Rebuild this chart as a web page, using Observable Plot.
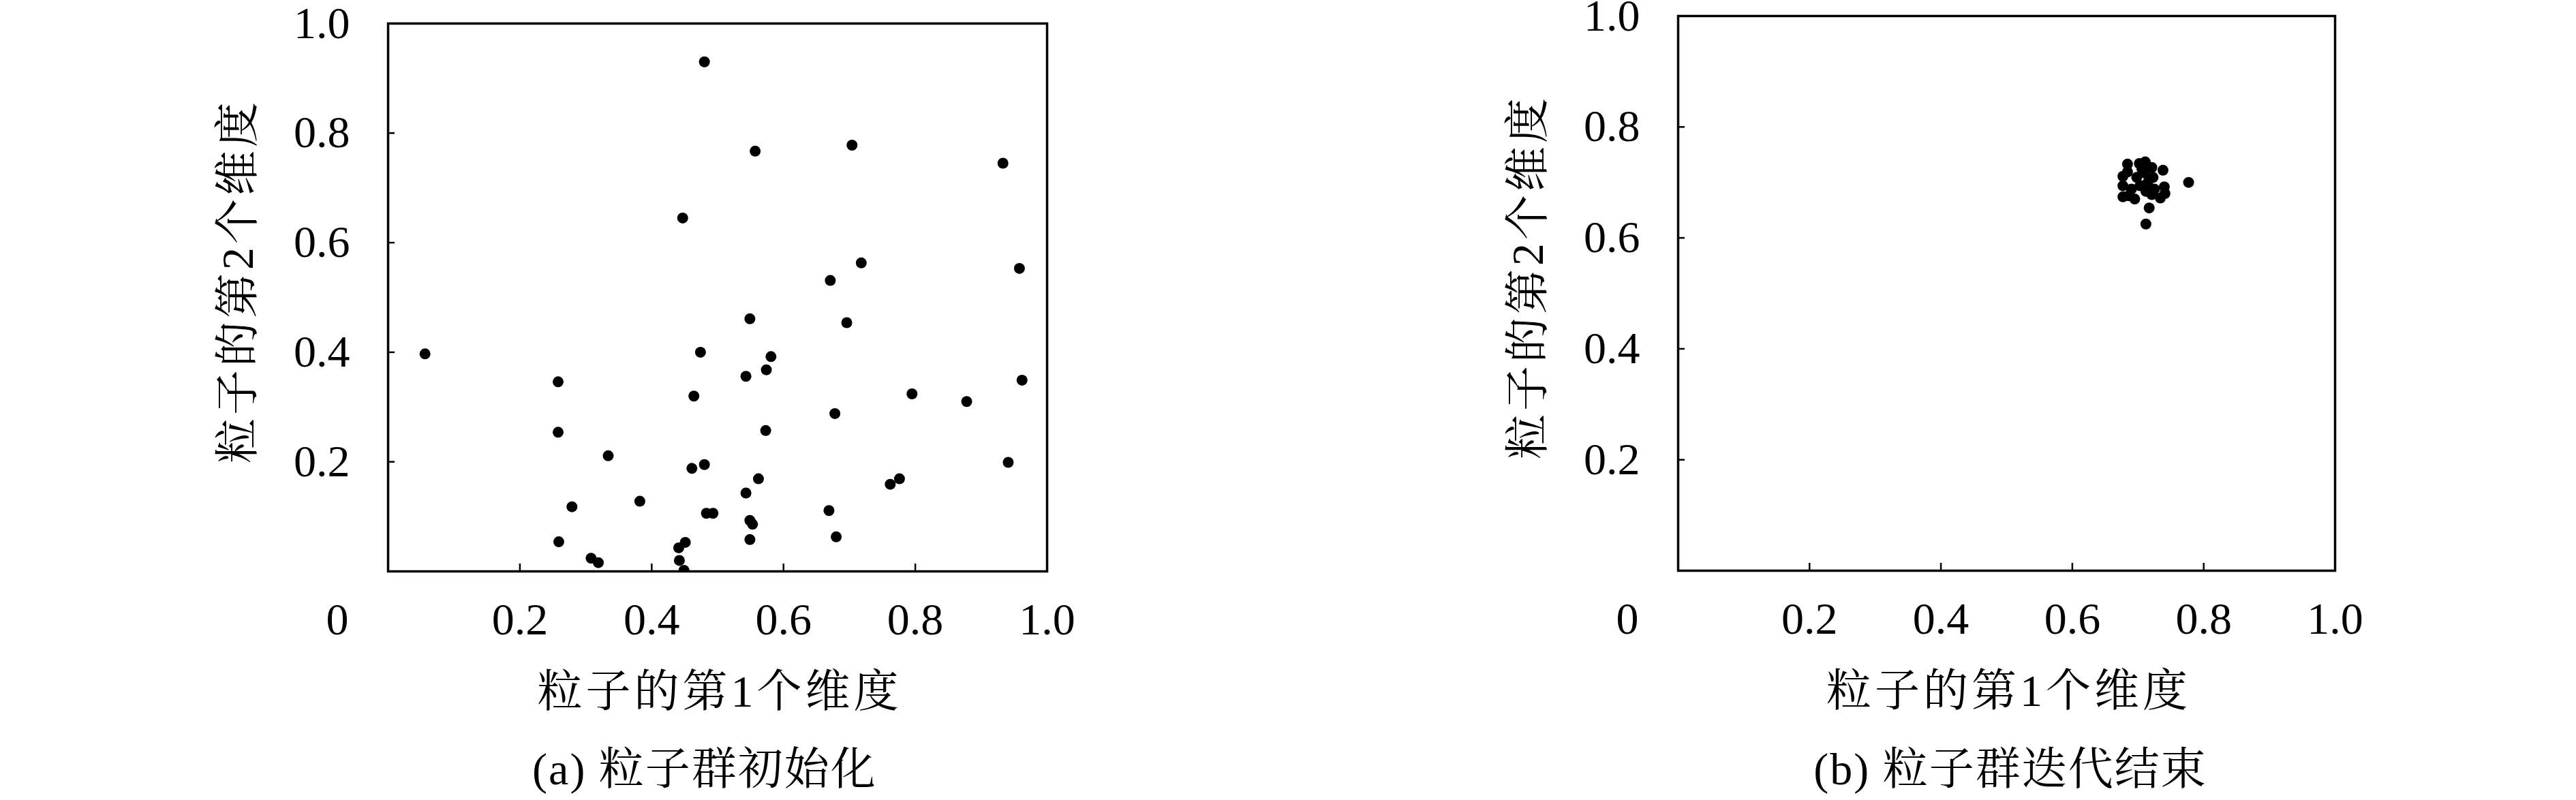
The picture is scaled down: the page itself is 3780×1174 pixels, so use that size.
<!DOCTYPE html>
<html>
<head>
<meta charset="utf-8">
<script src="https://cdn.jsdelivr.net/npm/d3@7"></script>
<script src="https://cdn.jsdelivr.net/npm/@observablehq/plot@0.6"></script>
<style>
html, body { margin: 0; padding: 0; background: #fff; }
#root { position: relative; width: 3780px; height: 1174px; overflow: hidden; background: #fff; }
.panel { position: absolute; top: 0; width: 1890px; height: 1060px; }
.cap { position: absolute; width: 1000px; text-align: center; font-family: "Liberation Serif", "Noto Serif CJK SC", "Noto Sans CJK SC", serif; font-size: 66px; line-height: 72px; letter-spacing: 2px; color: #000; white-space: nowrap; }
svg g[aria-label="text"] text { letter-spacing: 5px; }
</style>
</head>
<body>
<div id="root"></div>
<script>
// ---- data ----
const xTicks = [0.2, 0.4, 0.6, 0.8, 1.0];
const yTicks = [0.2, 0.4, 0.6, 0.8, 1.0];
const tickLabels = ["0.2", "0.4", "0.6", "0.8", "1.0"];
const originLabel = "0";
const xTitle = "粒子的第1个维度";
const yTitle = "粒子的第2个维度";
const captions = ["(a) 粒子群初始化", "(b) 粒子群迭代结束"];

// (a) initial particle positions
const initX = [0.480, 0.557, 0.704, 0.933, 0.447, 0.718, 0.671, 0.958,
  0.549, 0.696, 0.056, 0.474, 0.581, 0.574, 0.543, 0.258, 0.962, 0.464,
  0.795, 0.878, 0.678, 0.258, 0.573, 0.334, 0.461, 0.480, 0.941, 0.562,
  0.776, 0.762, 0.543, 0.382, 0.279, 0.483, 0.493, 0.669, 0.549, 0.553,
  0.259, 0.549, 0.680, 0.451, 0.441, 0.308, 0.319, 0.442, 0.449];
const initY = [0.930, 0.767, 0.778, 0.745, 0.645, 0.563, 0.531, 0.553,
  0.461, 0.454, 0.397, 0.400, 0.392, 0.368, 0.356, 0.346, 0.349, 0.320,
  0.324, 0.310, 0.288, 0.254, 0.257, 0.211, 0.188, 0.195, 0.199, 0.169,
  0.169, 0.159, 0.143, 0.128, 0.118, 0.106, 0.106, 0.111, 0.093, 0.086,
  0.054, 0.058, 0.063, 0.053, 0.043, 0.024, 0.016, 0.020, 0.002];

// (b) final particle positions
const finalX = [0.777, 0.717, 0.712, 0.738, 0.684, 0.702, 0.711, 0.721,
  0.677, 0.677, 0.677, 0.695, 0.690, 0.698, 0.710, 0.715, 0.712, 0.721,
  0.734, 0.740, 0.741, 0.725, 0.703, 0.684, 0.686, 0.706, 0.723];
const finalY = [0.700, 0.654, 0.625, 0.722, 0.733, 0.734, 0.737, 0.727,
  0.711, 0.694, 0.674, 0.670, 0.688, 0.709, 0.717, 0.700, 0.684, 0.678,
  0.672, 0.692, 0.680, 0.688, 0.694, 0.719, 0.676, 0.724, 0.709];

// ---- drawing ----
const serif = "'Liberation Serif', 'Times New Roman', serif";
const cjk = "'Liberation Serif', 'Noto Serif CJK SC', 'Noto Sans CJK SC', sans-serif";
const fmt = d => tickLabels[xTicks.indexOf(d)];

function panel(xs, ys, m) {
  const pts = xs.map((x, i) => ({x, y: ys[i]}));
  return Plot.plot({
    width: 1890,
    height: 1060,
    marginLeft: m.left,
    marginRight: m.right,
    marginTop: m.top,
    marginBottom: m.bottom,
    x: {domain: [0, 1]},
    y: {domain: [0, 1]},
    style: {fontFamily: serif, fontSize: "66px", color: "black", background: "white", overflow: "visible"},
    marks: [
      Plot.dot(pts, {x: "x", y: "y", r: 8, fill: "black", stroke: "none", clip: true}),
      Plot.axisX(xTicks, {anchor: "bottom", tickSize: -11, strokeWidth: 2.5, fill: "none", label: null}),
      Plot.axisY(yTicks, {anchor: "left", tickSize: -10, strokeWidth: 2.5, fill: "none", label: null}),
      Plot.axisX(xTicks, {anchor: "bottom", tickSize: 0, tickPadding: 46, tickFormat: fmt, label: null, fontSize: 66}),
      Plot.axisY(yTicks, {anchor: "left", tickSize: 0, tickPadding: 56, tickFormat: fmt, label: null, fontSize: 66}),
      Plot.text([originLabel], {x: () => 0, y: () => 0, text: d => d, dx: -72, dy: 46, lineAnchor: "top", textAnchor: "middle", fontSize: 66, fontFamily: serif}),
      Plot.text([xTitle], {frameAnchor: "bottom", text: d => d, dx: 3, dy: 177, lineAnchor: "middle", textAnchor: "middle", fontSize: 66, fontFamily: cjk}),
      Plot.text([yTitle], {frameAnchor: "left", text: d => d, rotate: -90, dx: -220, dy: -24, lineAnchor: "middle", textAnchor: "middle", fontSize: 66, fontFamily: cjk}),
      Plot.frame({stroke: "black", strokeWidth: 3.5, fill: "none"})
    ]
  });
}

const root = document.getElementById("root");

const left = document.createElement("div");
left.className = "panel";
left.style.left = "0px";
left.appendChild(panel(initX, initY, {left: 569, right: 354, top: 34, bottom: 222}));
root.appendChild(left);

const right = document.createElement("div");
right.className = "panel";
right.style.left = "1890px";
right.appendChild(panel(finalX, finalY, {left: 572, right: 354, top: 23, bottom: 223}));
root.appendChild(right);

const capCenters = [1034, 2950];
captions.forEach((c, i) => {
  const d = document.createElement("div");
  d.className = "cap";
  d.textContent = c;
  d.style.left = (capCenters[i] - 500) + "px";
  d.style.top = (1129 - 36) + "px";
  root.appendChild(d);
});
</script>
</body>
</html>
